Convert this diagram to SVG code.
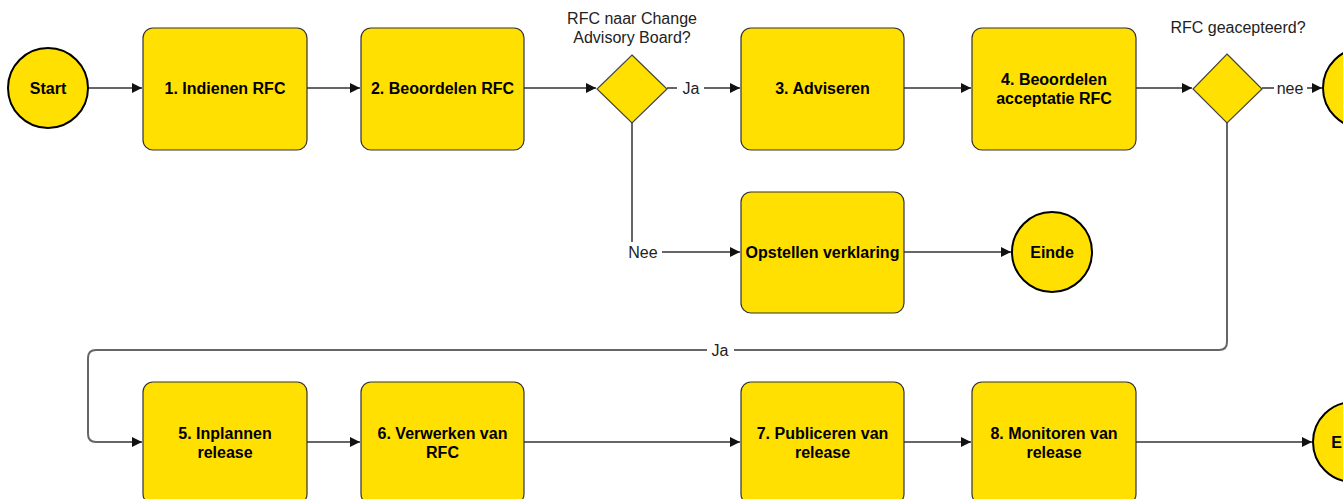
<svg xmlns="http://www.w3.org/2000/svg" width="1343" height="499" viewBox="0 0 1343 499">
<style>
.box{fill:#FFE000;stroke:#333;stroke-width:1.2}
.circ{fill:#FFE000;stroke:#000;stroke-width:2}
.dia{fill:#FFE000;stroke:#444;stroke-width:1.2}
.lbl{font-family:"Liberation Sans",Arial,sans-serif;font-size:16px;font-weight:bold;fill:#000;text-anchor:middle}
.txt{font-family:"Liberation Sans",Arial,sans-serif;font-size:16px;fill:#222;text-anchor:middle}
.edge{fill:none;stroke:#666;stroke-width:2}
.bg{fill:#fff}
</style>
<defs>
<marker id="arr" markerUnits="userSpaceOnUse" markerWidth="12" markerHeight="12" refX="11" refY="6" orient="auto">
<path d="M1,1 L11,6 L1,11 z" fill="#111"/>
</marker>
</defs>
<rect width="1343" height="499" fill="#fff"/>

<g id="connectors">
<path class="edge" d="M88,88 H142" marker-end="url(#arr)"/>
<path class="edge" d="M307,88 H360" marker-end="url(#arr)"/>
<path class="edge" d="M524,88 H596" marker-end="url(#arr)"/>
<path class="edge" d="M667,88 H740" marker-end="url(#arr)"/>
<path class="edge" d="M904,88 H971" marker-end="url(#arr)"/>
<path class="edge" d="M1136,88 H1192" marker-end="url(#arr)"/>
<path class="edge" d="M1262,88 H1322" marker-end="url(#arr)"/>
<path class="edge" d="M632,123 V252 H740" marker-end="url(#arr)"/>
<path class="edge" d="M904,252 H1011" marker-end="url(#arr)"/>
<path class="edge" d="M1227,123 V342 Q1227,350 1219,350 H96 Q88,350 88,358 V434 Q88,442 96,442 H142" marker-end="url(#arr)"/>
<path class="edge" d="M307,442 H360" marker-end="url(#arr)"/>
<path class="edge" d="M524,442 H740" marker-end="url(#arr)"/>
<path class="edge" d="M904,442 H971" marker-end="url(#arr)"/>
<path class="edge" d="M1136,442 H1312" marker-end="url(#arr)"/>
<rect class="bg" x="677" y="78" width="27" height="20"/>
<text class="txt" x="691" y="94">Ja</text>
<rect class="bg" x="1274" y="78" width="33" height="20"/>
<text class="txt" x="1290" y="94">nee</text>
<rect class="bg" x="624" y="242" width="38" height="20"/>
<text class="txt" x="643" y="258">Nee</text>
<rect class="bg" x="707" y="340" width="27" height="20"/>
<text class="txt" x="720" y="356">Ja</text>
</g>

<g id="start">
<circle class="circ" cx="48" cy="88" r="40"/>
<text class="lbl" x="48" y="94">Start</text>
</g>
<g id="n1">
<rect class="box" x="143" y="28" width="164" height="122" rx="10"/>
<text class="lbl" x="225" y="94">1. Indienen RFC</text>
</g>
<g id="n2">
<rect class="box" x="361" y="28" width="163" height="122" rx="10"/>
<text class="lbl" x="442.5" y="94">2. Beoordelen RFC</text>
</g>
<g id="d1">
<path class="dia" d="M632,55 L667,89 L632,123 L597,89 z"/>
<text class="txt" x="632" y="24">RFC naar Change</text>
<text class="txt" x="632" y="43">Advisory Board?</text>
</g>
<g id="n3">
<rect class="box" x="741" y="28" width="163" height="122" rx="10"/>
<text class="lbl" x="822.5" y="94">3. Adviseren</text>
</g>
<g id="n4">
<rect class="box" x="972" y="28" width="164" height="122" rx="10"/>
<text class="lbl" x="1054" y="85">4. Beoordelen</text>
<text class="lbl" x="1054" y="104">acceptatie RFC</text>
</g>
<g id="d2">
<path class="dia" d="M1227,54 L1262,89 L1227,123 L1193,89 z"/>
<text class="txt" x="1238" y="33">RFC geacepteerd?</text>
</g>
<g id="end1">
<circle class="circ" cx="1363" cy="88" r="40"/>
</g>
<g id="n_verklaring">
<rect class="box" x="741" y="192" width="163" height="121" rx="10"/>
<text class="lbl" x="822.5" y="258">Opstellen verklaring</text>
</g>
<g id="end2">
<circle class="circ" cx="1052" cy="252" r="40"/>
<text class="lbl" x="1052" y="258">Einde</text>
</g>
<g id="n5">
<rect class="box" x="143" y="382" width="164" height="122" rx="10"/>
<text class="lbl" x="225" y="439">5. Inplannen</text>
<text class="lbl" x="225" y="458">release</text>
</g>
<g id="n6">
<rect class="box" x="361" y="382" width="163" height="122" rx="10"/>
<text class="lbl" x="442.5" y="439">6. Verwerken van</text>
<text class="lbl" x="442.5" y="458">RFC</text>
</g>
<g id="n7">
<rect class="box" x="741" y="382" width="163" height="122" rx="10"/>
<text class="lbl" x="822.5" y="439">7. Publiceren van</text>
<text class="lbl" x="822.5" y="458">release</text>
</g>
<g id="n8">
<rect class="box" x="972" y="382" width="164" height="122" rx="10"/>
<text class="lbl" x="1054" y="439">8. Monitoren van</text>
<text class="lbl" x="1054" y="458">release</text>
</g>
<g id="end3">
<circle class="circ" cx="1353" cy="442" r="40"/>
<text class="lbl" x="1353" y="448">Einde</text>
</g>
</svg>
